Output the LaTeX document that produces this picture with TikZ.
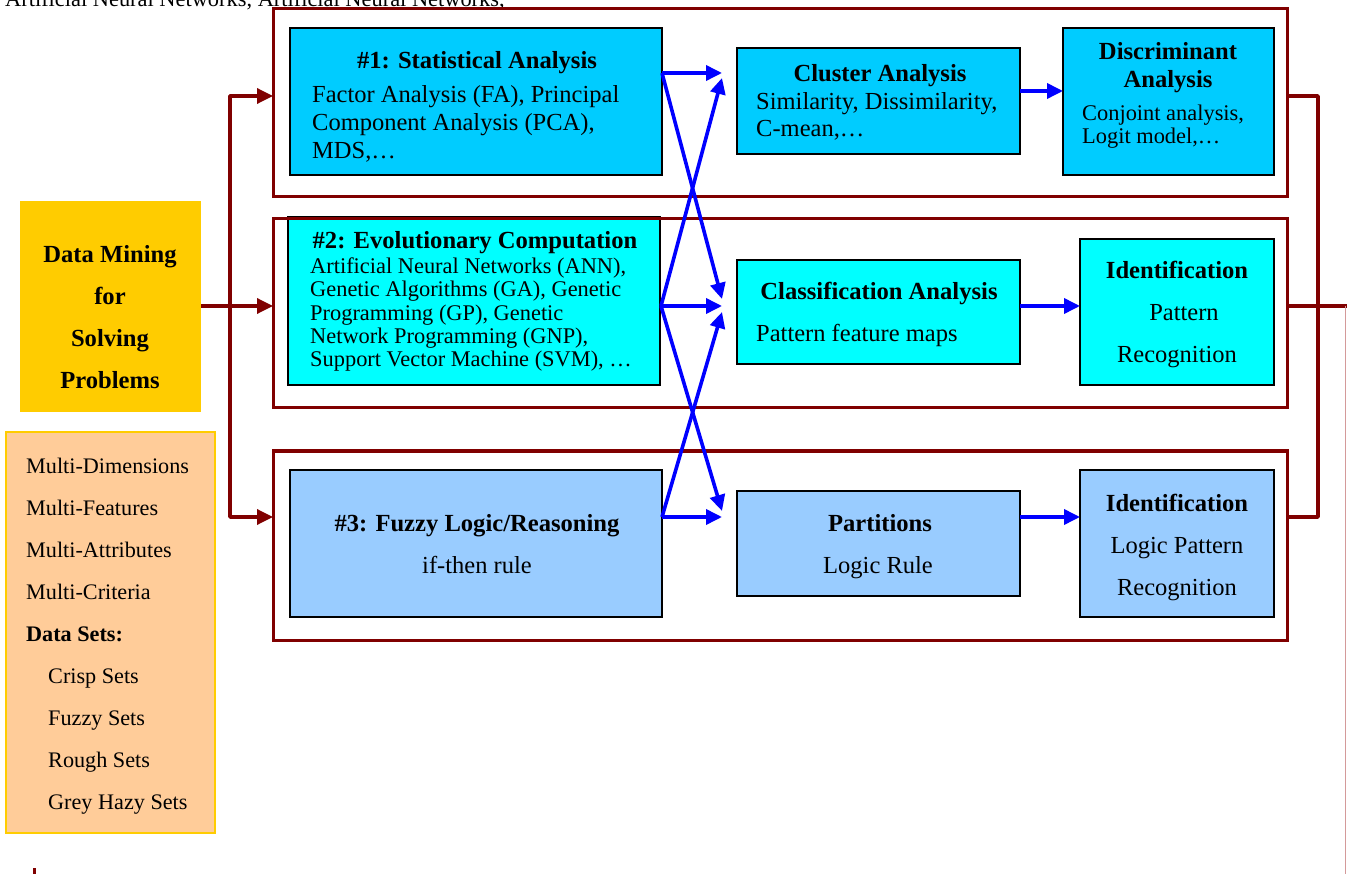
\documentclass[tikz,border=0pt]{standalone}
\usepackage{fontspec}
\setmainfont{Liberation Serif}
\usetikzlibrary{arrows.meta}
\definecolor{frameRed}{HTML}{800000}
\definecolor{statBlue}{HTML}{00CCFF}
\definecolor{evoCyan}{HTML}{00FFFF}
\definecolor{fuzzyBlue}{HTML}{99CCFF}
\definecolor{dmGold}{HTML}{FFCC00}
\definecolor{attrPeach}{HTML}{FFCC99}
\definecolor{linkBlue}{HTML}{0000FF}
\definecolor{ghostRed}{HTML}{D49A9A}

\begin{document}
\begin{tikzpicture}[x=1pt,y=-1pt,
  box/.style={draw=black, line width=1.4pt, inner sep=0pt, outer sep=0pt},
  frm/.style={draw=frameRed, line width=3pt, inner sep=0pt, outer sep=0pt},
  ttl/.style={font=\fontsize{24.6}{29}\selectfont\bfseries, inner sep=0pt, anchor=base},
  bdy/.style={font=\fontsize{24.5}{29}\selectfont, inner sep=0pt, anchor=base west},
  bdc/.style={font=\fontsize{24.5}{29}\selectfont, inner sep=0pt, anchor=base},
  sml/.style={font=\fontsize{22.4}{26}\selectfont, inner sep=0pt, anchor=base west},
  redln/.style={draw=frameRed, line width=3.4pt, line join=round},
  bluln/.style={draw=linkBlue, line width=3.6pt, line join=round,
    -{Triangle[length=16pt,width=15pt]}},
  redtip/.style={-{Triangle[length=16pt,width=15pt]}}
]
\useasboundingbox (0,0) rectangle (1347,874);

% stray caption line running off the top edge
\node[sml] (cap) at (5,6.5) {Artificial Neural Networks, Artificial Neural Networks,};

% ---- method boxes -------------------------------------------------------
\node[box, fill=statBlue, minimum width=372pt, minimum height=147pt] (b1) at (476,101.5) {};
\node[box, fill=statBlue, minimum width=283pt, minimum height=106pt] (cl) at (878.5,101) {};
\node[box, fill=statBlue, minimum width=211pt, minimum height=147pt] (da) at (1168.5,101.5) {};

\node[box, fill=evoCyan, minimum width=372pt, minimum height=168pt] (b2) at (474,301) {};
\node[box, fill=evoCyan, minimum width=283pt, minimum height=104pt] (ca) at (878.5,312) {};
\node[box, fill=evoCyan, minimum width=194pt, minimum height=146pt] (id2) at (1177,312) {};

\node[box, fill=fuzzyBlue, minimum width=372pt, minimum height=147pt] (b3) at (476,543.5) {};
\node[box, fill=fuzzyBlue, minimum width=283pt, minimum height=105pt] (pa) at (878.5,543.5) {};
\node[box, fill=fuzzyBlue, minimum width=194pt, minimum height=147pt] (id3) at (1177,543.5) {};

% ---- left panels --------------------------------------------------------
\node[fill=dmGold, inner sep=0pt, outer sep=0pt, minimum width=181pt, minimum height=211pt] (dm) at (110.5,306.5) {};
\node[fill=attrPeach, draw=dmGold, line width=1.5pt, inner sep=0pt, outer sep=0pt,
  minimum width=209pt, minimum height=401pt] (at) at (110.5,632.5) {};

% ---- texts --------------------------------------------------------------
\node[ttl] (t1) at (477,69) {\#1: Statistical Analysis};
\node[bdy] at (312,103) {Factor Analysis (FA), Principal};
\node[bdy] at (312,131) {Component Analysis (PCA),};
\node[bdy] at (312,159) {MDS,…};

\node[ttl] at (880,82) {Cluster Analysis};
\node[bdy] at (756,110) {Similarity, Dissimilarity,};
\node[bdy] at (756,137) {C-mean,…};

\node[ttl] at (1168,60) {Discriminant};
\node[ttl] at (1168,88) {Analysis};
\node[sml] at (1082,121) {Conjoint analysis,};
\node[sml] at (1082,144) {Logit model,…};

\node[ttl] at (475,249) {\#2: Evolutionary Computation};
\node[sml] at (310,274) {Artificial Neural Networks (ANN),};
\node[sml] at (310,297) {Genetic Algorithms (GA), Genetic};
\node[sml] at (310,320.5) {Programming (GP), Genetic};
\node[sml] at (310,344) {Network Programming (GNP),};
\node[sml] at (310,367) {Support Vector Machine (SVM), …};

\node[ttl] at (879,300) {Classification Analysis};
\node[bdy] at (756,342) {Pattern feature maps};

\node[ttl] at (1177,279) {Identification};
\node[bdc] at (1184,321) {Pattern};
\node[bdc] at (1177,363) {Recognition};

\node[ttl] at (477,531) {\#3: Fuzzy Logic/Reasoning};
\node[bdc] at (477,573) {if-then rule};

\node[ttl] at (880,531) {Partitions};
\node[bdc] at (878,573) {Logic Rule};

\node[ttl] at (1177,511) {Identification};
\node[bdc] at (1177,553) {Logic Pattern};
\node[bdc] at (1177,595) {Recognition};

\node[ttl] at (110,263) {Data Mining};
\node[ttl] at (110,305) {for};
\node[ttl] at (110,347) {Solving};
\node[ttl] at (110,389) {Problems};

\begin{scope}[every node/.style={font=\fontsize{22.2}{26}\selectfont, inner sep=0pt, anchor=base west}]
\node at (26,473) {Multi-Dimensions};
\node at (26,515) {Multi-Features};
\node at (26,557) {Multi-Attributes};
\node at (26,599) {Multi-Criteria};
\node at (26,641) {\bfseries Data Sets:};
\node at (48,683) {Crisp Sets};
\node at (48,725) {Fuzzy Sets};
\node at (48,767) {Rough Sets};
\node at (48,809) {Grey Hazy Sets};
\end{scope}

% ---- row frames ---------------------------------------------------------
\node[frm, minimum width=1014pt, minimum height=188pt] (f1) at (780,103) {};
\node[frm, minimum width=1014pt, minimum height=189pt] (f2) at (780,313.5) {};
\node[frm, minimum width=1014pt, minimum height=189pt] (f3) at (780,545.5) {};

% ---- red distribution lines ---------------------------------------------
\coordinate (busT) at (230,96);
\coordinate (busB) at (230,517);
\coordinate (busM) at (230,306);
\draw[redln, redtip] (busB) -- (busT) -- (busT -| f1.west);
\draw[redln, redtip] (busT) -- (busB) -- (busB -| f3.west);
\draw[redln, redtip] (dm.east |- busM) -- (busM -| f2.west);

\coordinate (rT) at (1318,96);
\coordinate (rB) at (1318,517);
\coordinate (rM) at (1349,306);
\coordinate (gT) at (1345.5,306);
\coordinate (gB) at (1345.5,876);
\draw[redln] (rT -| f1.east) -- (rT) -- (rB) -- (rB -| f3.east);
\draw[redln] (rM -| f2.east) -- (rM);
\draw[draw=ghostRed, line width=1pt] (gT) -- (gB);
\coordinate (mkT) at (34.5,868);
\coordinate (mkB) at (34.5,876);
\draw[draw=frameRed, line width=3pt] (mkT) -- (mkB);

% ---- blue links between methods -----------------------------------------
\coordinate (o1) at (662,73);
\coordinate (o2) at (661,306);
\coordinate (o3) at (662,517);
\coordinate (cH) at (722,73);
\coordinate (cX) at (722,78);
\coordinate (aT) at (722,299);
\coordinate (aH) at (722,306);
\coordinate (aB) at (722,312);
\coordinate (pX) at (722,511);
\coordinate (pH) at (722,517);
\draw[bluln] (o1) -- (cH);
\draw[bluln] (o1) -- (aT);
\draw[bluln] (o2) -- (cX);
\draw[bluln] (o2) -- (aH);
\draw[bluln] (o2) -- (pX);
\draw[bluln] (o3) -- (aB);
\draw[bluln] (o3) -- (pH);

\coordinate (yCl) at (0,91);
\coordinate (yCa) at (0,306);
\coordinate (yPa) at (0,517);
\draw[bluln] (cl.east |- yCl) -- (da.west |- yCl);
\draw[bluln] (ca.east |- yCa) -- (id2.west |- yCa);
\draw[bluln] (pa.east |- yPa) -- (id3.west |- yPa);
\end{tikzpicture}
\end{document}
